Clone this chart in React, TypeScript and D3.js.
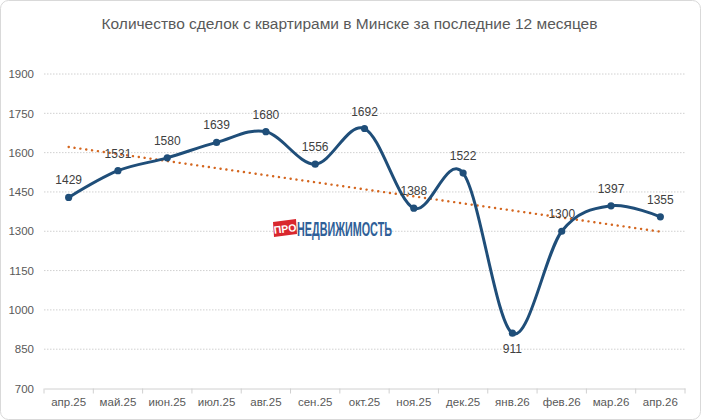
import { useEffect, useRef } from "react";
import * as d3 from "d3";

const months = ["апр.25", "май.25", "июн.25", "июл.25", "авг.25", "сен.25", "окт.25", "ноя.25", "дек.25", "янв.26", "фев.26", "мар.26", "апр.26"];
const deals = [1429, 1531, 1580, 1639, 1680, 1556, 1692, 1388, 1522, 911, 1300, 1397, 1355];
const yTicks = [700, 850, 1000, 1150, 1300, 1450, 1600, 1750, 1900];
const title = "Количество сделок с квартирами в Минске за последние 12 месяцев";

const W = 701;
const H = 420;
const margin = { top: 74, right: 16, bottom: 31.5, left: 44 };
const font = "'Liberation Sans Narrow', 'Liberation Sans', sans-serif";

const App = () => {
  const ref = useRef<SVGSVGElement>(null);

  useEffect(() => {
    const svg = d3.select(ref.current);
    svg.selectAll("*").remove();

    // рамка
    svg.append("rect")
      .attr("x", 0.5).attr("y", 0.5)
      .attr("width", W - 1).attr("height", H - 1)
      .attr("rx", 8)
      .attr("fill", "#fff")
      .attr("stroke", "#d9d9d9");

    svg.append("text")
      .attr("x", W / 2 - 1).attr("y", 29)
      .attr("text-anchor", "middle")
      .attr("font-family", "'Liberation Sans', sans-serif")
      .attr("font-size", 15.5)
      .attr("fill", "#595959")
      .text(title);

    const x = d3.scaleBand<string>()
      .domain(months)
      .range([margin.left, W - margin.right]);

    const y = d3.scaleLinear()
      .domain([700, 1900])
      .range([H - margin.bottom, margin.top]);

    // сетка
    svg.append("g")
      .selectAll("line")
      .data(yTicks.slice(1))
      .join("line")
      .attr("x1", margin.left).attr("x2", W - margin.right)
      .attr("y1", d => y(d)).attr("y2", d => y(d))
      .attr("stroke", "#d0d0d0")
      .attr("stroke-dasharray", "1.5,1.5");

    const yAxis = svg.append("g")
      .attr("transform", `translate(${margin.left},0)`)
      .call(d3.axisLeft(y).tickValues(yTicks).tickFormat(d3.format("d")).tickSize(0).tickPadding(10));
    yAxis.select(".domain").remove();
    yAxis.selectAll("text")
      .attr("font-family", font)
      .attr("font-size", 11.5)
      .attr("fill", "#595959");

    const xAxis = svg.append("g")
      .attr("transform", `translate(0,${H - margin.bottom})`)
      .call(d3.axisBottom(x).tickSize(0).tickPadding(9));
    xAxis.select(".domain").attr("stroke", "#d0d0d0");
    xAxis.selectAll("text")
      .attr("font-family", font)
      .attr("font-size", 11.5)
      .attr("fill", "#595959");
    xAxis.selectAll(".sep")
      .data(d3.range(months.length + 1))
      .join("line")
      .attr("class", "sep")
      .attr("x1", i => margin.left + i * x.step())
      .attr("x2", i => margin.left + i * x.step())
      .attr("y1", 0).attr("y2", 5)
      .attr("stroke", "#d0d0d0");

    const cx = (d: string) => (x(d) ?? 0) + x.bandwidth() / 2;

    // логотип
    const logo = svg.append("g").attr("transform", "translate(273,218)");
    logo.append("path")
      .attr("d", "M0,4 L23,1 L24,16 L1,19 Z")
      .attr("fill", "#d9272e");
    logo.append("text")
      .attr("x", 12).attr("y", 14.5)
      .attr("text-anchor", "middle")
      .attr("transform", "rotate(-7,12,10)")
      .attr("font-family", font)
      .attr("font-weight", "bold")
      .attr("font-size", 10.5)
      .attr("fill", "#fff")
      .text("ПРО");
    logo.append("text")
      .attr("x", 24).attr("y", 18)
      .attr("font-family", font)
      .attr("font-weight", "bold")
      .attr("font-size", 20)
      .attr("textLength", 95)
      .attr("lengthAdjust", "spacingAndGlyphs")
      .attr("fill", "#2f5f98")
      .text("НЕДВИЖИМОСТЬ");

    // линия тренда
    const xs = deals.map((_, i) => i);
    const mx = d3.mean(xs) ?? 0;
    const my = d3.mean(deals) ?? 0;
    const slope = d3.sum(xs, i => (i - mx) * (deals[i] - my)) / d3.sum(xs, i => (i - mx) ** 2);
    const trend = (i: number) => my + slope * (i - mx);
    svg.append("line")
      .attr("x1", cx(months[0])).attr("y1", y(trend(0)))
      .attr("x2", cx(months[months.length - 1])).attr("y2", y(trend(months.length - 1)))
      .attr("stroke", "#d4661f")
      .attr("stroke-width", 2.4)
      .attr("stroke-linecap", "round")
      .attr("stroke-dasharray", "0.1,5.8");

    const line = d3.line<number>()
      .x((_, i) => cx(months[i]))
      .y(d => y(d))
      .curve(d3.curveCatmullRom.alpha(0));

    svg.append("path")
      .datum(deals)
      .attr("fill", "none")
      .attr("stroke", "#1f4e79")
      .attr("stroke-width", 3)
      .attr("d", line);

    svg.append("g")
      .selectAll("circle")
      .data(deals)
      .join("circle")
      .attr("cx", (_, i) => cx(months[i]))
      .attr("cy", d => y(d))
      .attr("r", 3.6)
      .attr("fill", "#1f4e79");

    svg.append("g")
      .selectAll("text")
      .data(deals)
      .join("text")
      .attr("x", (_, i) => cx(months[i]))
      .attr("y", d => d === d3.min(deals) ? y(d) + 20 : y(d) - 13)
      .attr("text-anchor", "middle")
      .attr("font-family", font)
      .attr("font-size", 12)
      .attr("fill", "#404040")
      .text(d => d);
  }, []);

  return (
    <svg ref={ref} width={W} height={H} style={{ position: "absolute", left: 0, top: 0 }} />
  );
};

export default App;
